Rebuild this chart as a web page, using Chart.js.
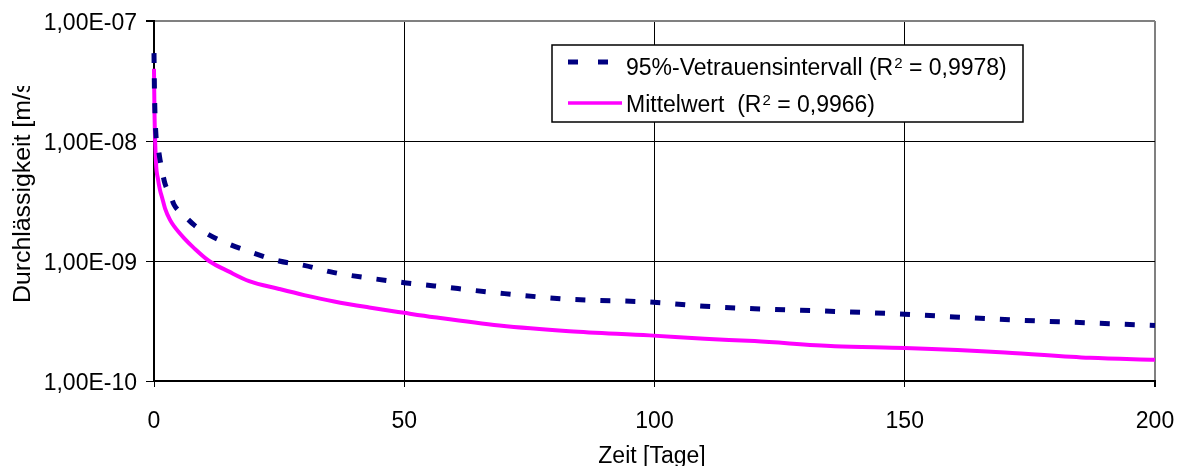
<!DOCTYPE html>
<html><head><meta charset="utf-8">
<script src="https://cdn.jsdelivr.net/npm/chart.js@4/dist/chart.umd.min.js"></script>
<style>html,body{margin:0;padding:0;background:#fff;overflow:hidden}</style>
</head><body>
<canvas id="c" width="1181" height="466"></canvas>
<script>
const times = [0, 0.1, 0.4, 0.8, 1.2, 1.6, 2.2, 3.2, 4, 6, 8, 11, 15, 19, 25, 30, 36, 43, 50, 56, 69, 83, 99, 110, 120, 136, 150, 170, 187, 200];
const upperValues = [5.4e-8, 2.5e-8, 1.1e-8, 8.9e-9, 7.0e-9, 5.7e-9, 4.4e-9, 3.6e-9, 2.95e-9, 2.4e-9, 2.0e-9, 1.65e-9, 1.38e-9, 1.2e-9, 1.0e-9, 9.2e-10, 8.0e-10, 7.2e-10, 6.6e-10, 6.2e-10, 5.4e-10, 4.8e-10, 4.55e-10, 4.2e-10, 4.0e-10, 3.8e-10, 3.6e-10, 3.25e-10, 3.05e-10, 2.9e-10];
const meanValues = [4.0e-8, 1.7e-8, 6.6e-9, 4.8e-9, 3.9e-9, 3.4e-9, 2.75e-9, 2.2e-9, 1.95e-9, 1.55e-9, 1.28e-9, 1.0e-9, 8.15e-10, 6.8e-10, 5.85e-10, 5.2e-10, 4.6e-10, 4.1e-10, 3.7e-10, 3.4e-10, 2.9e-10, 2.6e-10, 2.4e-10, 2.25e-10, 2.15e-10, 1.95e-10, 1.88e-10, 1.73e-10, 1.56e-10, 1.5e-10];
const xTickValues = [0, 50, 100, 150, 200];
const yTickValues = [1e-10, 1e-9, 1e-8, 1e-7];
const yTickLabels = ['1,00E-10', '1,00E-09', '1,00E-08', '1,00E-07'];
const seriesNames = ['95%-Vetrauensintervall', 'Mittelwert'];
const seriesGaps = [' ', '  '];
const r2Values = ['0,9978', '0,9966'];
const xTitle = 'Zeit [Tage]';
const yTitle = 'Durchlässigkeit [m/s]';

const FONT = "'Liberation Sans', Arial, sans-serif";
const BLUE = '#000080';
const MAGENTA = '#FF00FF';

const toPoints = vals => times.map((t, i) => ({x: t, y: vals[i]}));

const decor = {
  id: 'decor',
  afterDraw(chart) {
    const ctx = chart.ctx;
    ctx.save();
    ctx.fillStyle = '#000';
    // x title
    ctx.font = '23px ' + FONT;
    ctx.textAlign = 'center';
    ctx.textBaseline = 'alphabetic';
    ctx.fillText(xTitle, 652, 463);
    // y title (clipped at top like reference)
    ctx.save();
    ctx.beginPath();
    ctx.rect(0, 86, 60, 380);
    ctx.clip();
    ctx.translate(30, 303);
    ctx.rotate(-Math.PI / 2);
    ctx.scale(1.08, 1);
    ctx.textAlign = 'left';
    ctx.fillText(yTitle, 0, 0);
    ctx.restore();

    // legend
    const bx = 552, by = 45, bw = 471, bh = 77;
    ctx.fillStyle = '#fff';
    ctx.fillRect(bx, by, bw, bh);
    ctx.strokeStyle = '#000';
    ctx.lineWidth = 1.5;
    ctx.strokeRect(bx, by, bw, bh);
    const rows = [{y: 75, sym: 'dash'}, {y: 112, sym: 'line'}];
    rows.forEach((r, i) => {
      ctx.save();
      if (r.sym === 'dash') {
        ctx.strokeStyle = BLUE; ctx.lineWidth = 5; ctx.setLineDash([10, 20]);
        ctx.beginPath(); ctx.moveTo(568, 62); ctx.lineTo(610, 62); ctx.stroke();
      } else {
        ctx.strokeStyle = MAGENTA; ctx.lineWidth = 3.5;
        ctx.beginPath(); ctx.moveTo(568, 103); ctx.lineTo(622, 103); ctx.stroke();
      }
      ctx.restore();
      ctx.fillStyle = '#000';
      ctx.textAlign = 'left';
      ctx.font = '23px ' + FONT;
      let x = 626;
      const t1 = seriesNames[i] + seriesGaps[i] + '(R';
      ctx.fillText(t1, x, r.y);
      x += ctx.measureText(t1).width;
      ctx.font = '15px ' + FONT;
      ctx.fillText('2', x + 1, r.y - 7);
      x += ctx.measureText('2').width + 1;
      ctx.font = '23px ' + FONT;
      ctx.fillText(' = ' + r2Values[i] + ')', x, r.y);
    });
    ctx.restore();
  }
};

new Chart(document.getElementById('c'), {
  type: 'line',
  data: {
    datasets: [
      {label: seriesNames[0], data: toPoints(upperValues), borderColor: BLUE, borderWidth: 5, borderDash: [10, 15], pointRadius: 0, cubicInterpolationMode: 'monotone', clip: 4, fill: false},
      {label: seriesNames[1], data: toPoints(meanValues), borderColor: MAGENTA, borderWidth: 4, pointRadius: 0, cubicInterpolationMode: 'monotone', clip: 4, fill: false}
    ]
  },
  options: {
    responsive: false,
    animation: false,
    devicePixelRatio: 1,
    layout: {padding: {left: 0, top: 21, right: 26, bottom: 0}},
    plugins: {legend: {display: false}, tooltip: {enabled: false}, title: {display: false}},
    scales: {
      x: {
        type: 'linear', min: 0, max: 200,
        afterBuildTicks: s => { s.ticks = xTickValues.map(v => ({value: v})); },
        afterFit: s => { s.height = 85; s.paddingLeft = 0; s.paddingRight = 0; },
        ticks: {font: {family: FONT, size: 23}, color: '#000', padding: 21, maxRotation: 0, autoSkip: false},
        grid: {
          color: c => (c.tick && c.tick.value === 200) ? '#808080' : '#000',
          lineWidth: c => (c.tick && c.tick.value === 200) ? 2 : 1,
          tickColor: '#000', tickLength: 6
        },
        border: {color: '#000', width: 2}
      },
      y: {
        type: 'logarithmic', min: 1e-10, max: 1e-7,
        afterBuildTicks: s => { s.ticks = yTickValues.map(v => ({value: v})); },
        afterFit: s => { s.width = 154; s.paddingTop = 0; s.paddingBottom = 0; },
        ticks: {font: {family: FONT, size: 23}, color: '#000', padding: 9, labelOffset: 3,
          callback: (v, i) => yTickLabels[i]},
        grid: {
          color: c => (c.tick && c.tick.value === 1e-7) ? '#808080' : '#000',
          lineWidth: c => (c.tick && c.tick.value === 1e-7) ? 2 : 1,
          tickColor: '#000', tickLength: 8
        },
        border: {color: '#000', width: 2}
      }
    }
  },
  plugins: [decor]
});
</script>
</body></html>
